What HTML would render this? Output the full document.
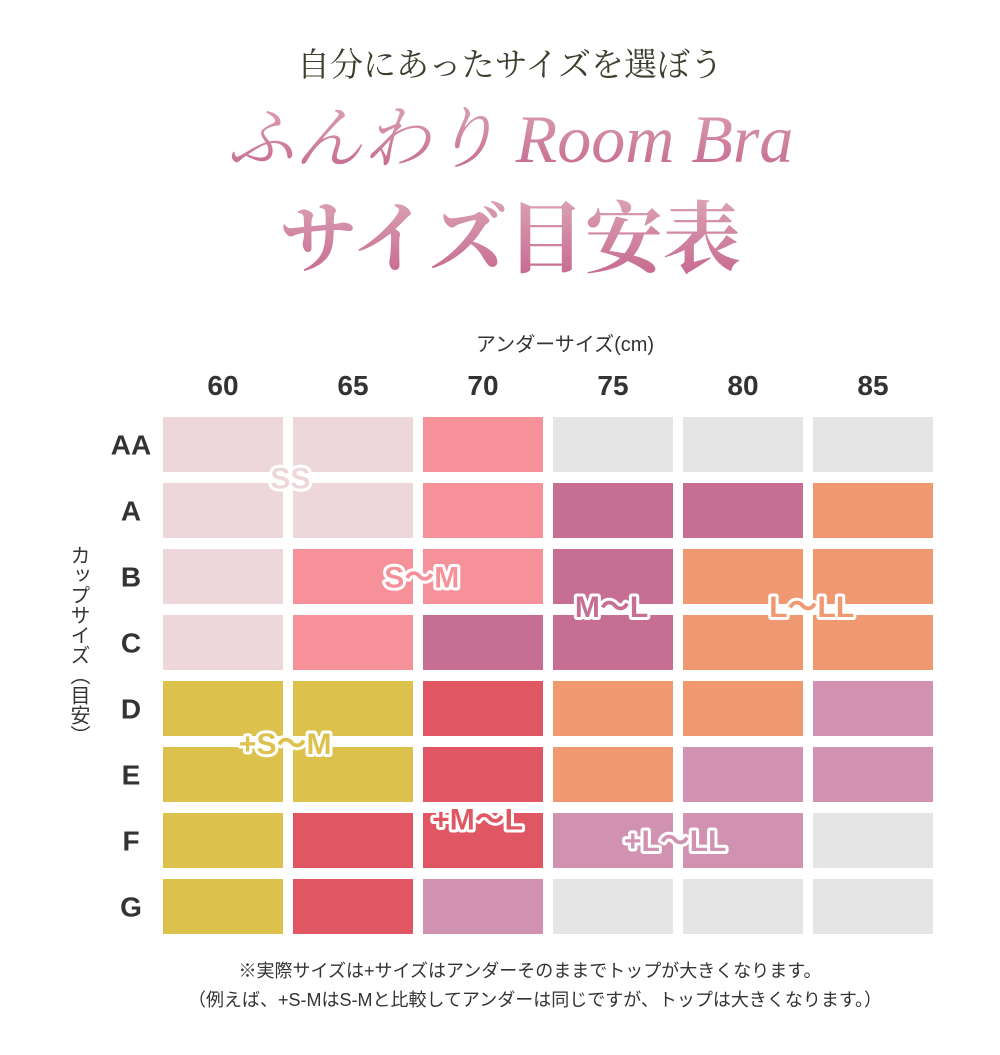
<!DOCTYPE html>
<html><head><meta charset="utf-8"><style>
body{margin:0;background:#fff;}
svg text{font-family:"Liberation Sans","Noto Sans CJK JP",sans-serif;}
</style></head><body>
<svg width="1000" height="1050" viewBox="0 0 1000 1050">
<defs>
<linearGradient id="g" x1="0" y1="0" x2="0" y2="1"><stop offset="0" stop-color="#dba3b6"/><stop offset="1" stop-color="#c5658c"/></linearGradient>
</defs>
<text x="510" y="76" text-anchor="middle" font-size="33" fill="#3f3e2e" style="font-family:'Liberation Serif','Noto Serif CJK SC',serif">自分にあったサイズを選ぼう</text>
<text x="510" y="162" text-anchor="middle" font-size="68" font-style="italic" fill="url(#g)" style="font-family:'Liberation Serif','Noto Serif CJK SC',serif">ふんわり Room Bra</text>
<text x="510" y="266" text-anchor="middle" font-size="78" font-weight="bold" fill="url(#g)" style="font-family:'Liberation Serif','Noto Serif CJK SC',serif">サイズ目安表</text>
<text x="565" y="351" text-anchor="middle" font-size="20" fill="#333">アンダーサイズ(cm)</text>
<text x="0" y="0" font-size="20" fill="#333" transform="translate(78,545)" style="writing-mode:vertical-rl">カップサイズ（目安）</text>
<g id="grid"></g>
<text x="530" y="977" text-anchor="middle" font-size="18" fill="#333">※実際サイズは+サイズはアンダーそのままでトップが大きくなります。</text>
<text x="535" y="1006" text-anchor="middle" font-size="18" fill="#333">（例えば、+S-MはS-Mと比較してアンダーは同じですが、トップは大きくなります。）</text>
</svg>
<script>
const columns=["60","65","70","75","80","85"];
const rows=["AA","A","B","C","D","E","F","G"];
const cellTypes=[
["ss","ss","sm","x","x","x"],
["ss","ss","sm","ml","ml","lll"],
["ss","sm","sm","ml","lll","lll"],
["ss","sm","ml","ml","lll","lll"],
["psm","psm","pml","lll","lll","plll"],
["psm","psm","pml","lll","plll","plll"],
["psm","pml","pml","plll","plll","x"],
["psm","pml","plll","x","x","x"]];
const labels=[["SS",0.98,0.92],["S～M",1.99,2.42],["M～L",3.45,2.86],["L～LL",4.99,2.86],["+S～M",0.94,4.94],["+M～L",2.42,6.08],["+L～LL",3.94,6.41]];
const labelTypes=["ss","sm","ml","lll","psm","pml","plll"];
const colors={ss:"#eed7da",sm:"#f79199",ml:"#c66f93",lll:"#f09870",psm:"#dcc14c",pml:"#e05763",plll:"#d092b0",x:"#e5e5e5"};
const NS="http://www.w3.org/2000/svg",g=document.getElementById('grid');
const x0=163,cw=120,cg=10,y0=417,rh=55,rg=11;
const xs=c=>x0+c*(cw+cg), ys=r=>y0+r*(rh+rg);
columns.forEach((c,i)=>{const t=document.createElementNS(NS,'text');


t.setAttribute('x',xs(i)+cw/2);t.setAttribute('y',395);t.setAttribute('text-anchor','middle');t.setAttribute('font-size','28');t.setAttribute('font-weight','bold');t.setAttribute('fill','#333');t.textContent=c;g.appendChild(t);});
rows.forEach((r,j)=>{const t=document.createElementNS(NS,'text');


t.setAttribute('x',131);t.setAttribute('y',ys(j)+rh/2+10);t.setAttribute('text-anchor','middle');t.setAttribute('font-size','28');t.setAttribute('font-weight','bold');t.setAttribute('fill','#333');t.textContent=r;g.appendChild(t);
cellTypes[j].forEach((k,i)=>{const e=document.createElementNS(NS,'rect');


e.setAttribute('x',xs(i));e.setAttribute('y',ys(j));e.setAttribute('width',cw);e.setAttribute('height',rh);e.setAttribute('fill',colors[k]);g.appendChild(e);});});
labels.forEach((l,i)=>{
[0,1].forEach(pass=>{const t=document.createElementNS(NS,'text');


t.setAttribute('x',x0+l[1]*(cw+cg));t.setAttribute('y',y0+l[2]*(rh+rg)+11);t.setAttribute('text-anchor','middle');t.setAttribute('font-size','30');t.setAttribute('font-weight','bold');
if(pass){t.setAttribute('fill',colors[labelTypes[i]]);}else{t.setAttribute('fill','#fff');t.setAttribute('stroke','#fff');t.setAttribute('stroke-width','6');t.setAttribute('stroke-linejoin','round');}
t.textContent=l[0];g.appendChild(t);});});
</script>
</body></html>
